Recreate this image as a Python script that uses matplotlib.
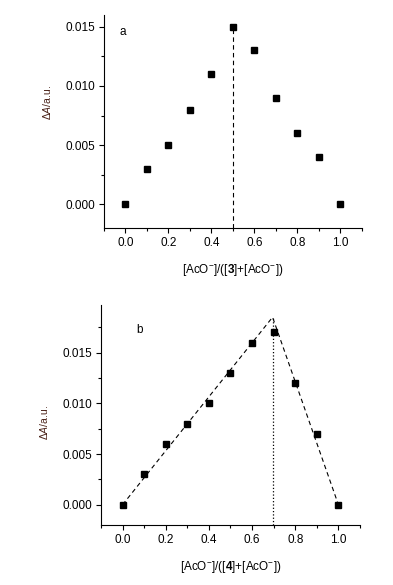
import numpy as np
import matplotlib
matplotlib.use('Agg')
import matplotlib.pyplot as plt
from matplotlib.ticker import MultipleLocator

plt.rcParams['font.family'] = ['Liberation Sans', 'DejaVu Sans']
plt.rcParams['mathtext.fontset'] = 'custom'
plt.rcParams['mathtext.rm'] = 'Liberation Sans'
plt.rcParams['mathtext.it'] = 'Liberation Sans:italic'
plt.rcParams['mathtext.bf'] = 'Liberation Sans:bold'

# mole fraction of AcO-
frac = [0.0, 0.1, 0.2, 0.3, 0.4, 0.5, 0.6, 0.7, 0.8, 0.9, 1.0]
# panel a (receptor 3)
dA_3 = [0.000, 0.003, 0.005, 0.008, 0.011, 0.015, 0.013, 0.009, 0.006, 0.004, 0.000]
# panel b (receptor 4)
dA_4 = [0.000, 0.003, 0.006, 0.008, 0.010, 0.013, 0.016, 0.017, 0.012, 0.007, 0.000]
# fitted triangle for b
fit_x = [0.0, 0.695, 1.0]
fit_y = [0.0, 0.0185, 0.0]
peak_a = 0.5

fig = plt.figure(figsize=(3.93, 5.85), dpi=100)
ax1 = fig.add_axes([0.2646, 0.6103, 0.921 - 0.2646, 0.9744 - 0.6103])
ax2 = fig.add_axes([0.257, 0.1026, 0.916 - 0.257, 0.4786 - 0.1026])

ylab_color = '#4a2218'

def style(ax, ylim, num, ylab_y):
    ax.set_xlim(-0.1, 1.1)
    ax.set_ylim(*ylim)
    for s in ['top', 'right']:
        ax.spines[s].set_visible(False)
    for s in ['left', 'bottom']:
        ax.spines[s].set_linewidth(0.8)
    ax.xaxis.set_major_locator(MultipleLocator(0.2))
    ax.xaxis.set_minor_locator(MultipleLocator(0.1))
    ax.yaxis.set_major_locator(MultipleLocator(0.005))
    ax.yaxis.set_minor_locator(MultipleLocator(0.0025))
    ax.xaxis.set_major_formatter(plt.FormatStrFormatter('%.1f'))
    ax.yaxis.set_major_formatter(plt.FormatStrFormatter('%.3f'))
    ax.tick_params(which='major', direction='out', length=3.5, width=0.8, labelsize=8.5, pad=3)
    ax.tick_params(which='minor', direction='out', length=2, width=0.8)
    ax.set_ylabel(r'Δ$\mathit{A}$/a.u.', fontsize=7.5, color=ylab_color)
    ax.yaxis.set_label_coords(-0.197, ylab_y)
    ax.set_xlabel(r'[AcO$^{-}$]/([$\mathbf{' + num + r'}$]+[AcO$^{-}$])', fontsize=8.5, labelpad=9)

# panel a
style(ax1, (-0.002, 0.016), '3', 0.587)
ax1.plot(frac, dA_3, 's', color='black', markersize=4.2)
ax1.plot([peak_a, peak_a], [-0.002, max(dA_3)], '--', color='black', linewidth=0.8, dashes=(4, 3))
ax1.text(-0.03, 0.0143, 'a', fontsize=8.5)

# panel b
style(ax2, (-0.002, 0.0197), '4', 0.464)
ax2.plot(fit_x, fit_y, '--', color='black', linewidth=0.8, dashes=(4, 3))
ax2.plot([fit_x[1], fit_x[1]], [-0.002, fit_y[1]], ':', color='black', linewidth=0.9)
ax2.plot(frac, dA_4, 's', color='black', markersize=4.2)
ax2.text(0.065, 0.0169, 'b', fontsize=8.5)

fig.savefig('out.png', dpi=100)
